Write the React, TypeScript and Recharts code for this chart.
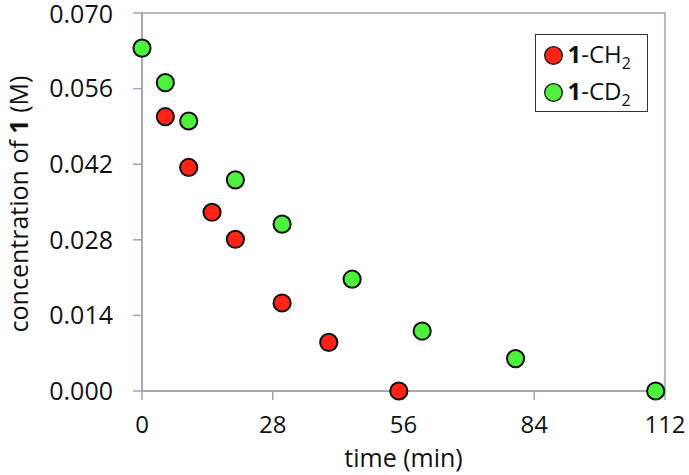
import React from "react";
import {
  ScatterChart,
  Scatter,
  XAxis,
  YAxis,
  ReferenceArea,
  Legend,
  Label,
} from "recharts";

// time (min) / concentration (M)
const ch2Time = [5, 10, 15, 20, 30, 40, 55];
const ch2Conc = [0.0508, 0.0414, 0.0331, 0.0281, 0.0163, 0.009, 0.0];

const cd2Time = [0, 5, 10, 20, 30, 45, 60, 80, 110];
const cd2Conc = [0.0635, 0.0571, 0.05, 0.0391, 0.0309, 0.0207, 0.0111, 0.006, 0.0];

const xTicks = [0, 28, 56, 84, 112];
const yTicks = [0, 0.014, 0.028, 0.042, 0.056, 0.07];

const RED = "#ff2416";
const GREEN = "#4df03c";
const AXIS = "#9ca6ae";
const FONT = "'Open Sans', sans-serif";

const ch2Data = ch2Time.map((t, i) => ({ t, c: ch2Conc[i] }));
const cd2Data = cd2Time.map((t, i) => ({ t, c: cd2Conc[i] }));

const Dot = (fill: string) => (props: any) => {
  const { cx, cy } = props;
  if (cx == null || cy == null) return null;
  return <circle cx={cx} cy={cy} r={8.6} fill={fill} stroke="#111" strokeWidth={2} />;
};

const LegendBox = () => {
  const rows = [
    { color: RED, sub: "CH", n: "2" },
    { color: GREEN, sub: "CD", n: "2" },
  ];
  return (
    <div
      style={{
        width: 113,
        height: 78,
        border: "1.5px solid #333",
        background: "#fff",
        fontFamily: FONT,
        fontSize: 24,
        lineHeight: "30px",
        color: "#111",
        boxSizing: "border-box",
        paddingTop: 2,
      }}
    >
      {rows.map((r) => (
        <div key={r.sub} style={{ display: "flex", alignItems: "center", height: 37, paddingLeft: 6.5 }}>
          <svg width={21} height={21} style={{ marginRight: 4, flex: "none" }}>
            <circle cx={10.5} cy={10.5} r={8.8} fill={r.color} stroke="#111" strokeWidth={1.3} />
          </svg>
          <span style={{ whiteSpace: "nowrap" }}>
            <b>1</b>-{r.sub}
            <span style={{ fontSize: 16, position: "relative", top: 6 }}>{r.n}</span>
          </span>
        </div>
      ))}
    </div>
  );
};

export default function App() {
  return (
    <div style={{ position: "absolute", left: 0, top: 0, background: "#fff" }}>
      <ScatterChart
        width={689}
        height={475}
        margin={{ top: 13, right: 24, left: 0, bottom: 0 }}
        style={{ fontFamily: FONT }}
      >
        <XAxis
          type="number"
          dataKey="t"
          domain={[0, 112]}
          ticks={xTicks}
          height={84}
          tickSize={9}
          tickMargin={16}
          tick={{ fontSize: 24, fill: "#111" }}
          axisLine={{ stroke: AXIS, strokeWidth: 1.5 }}
          tickLine={{ stroke: AXIS, strokeWidth: 1.5 }}
        >
          <Label
            content={(p: any) => {
              const vb = p.viewBox;
              return (
                <text x={vb.x + vb.width / 2} y={vb.y + 76} textAnchor="middle" fontSize={25} fill="#111">
                  time (min)
                </text>
              );
            }}
          />
        </XAxis>
        <YAxis
          type="number"
          dataKey="c"
          domain={[0, 0.07]}
          ticks={yTicks}
          width={142}
          tickSize={9}
          tickMargin={20}
          tickFormatter={(v: number) => v.toFixed(3)}
          tick={{ fontSize: 25, fill: "#111" }}
          axisLine={{ stroke: AXIS, strokeWidth: 1.5 }}
          tickLine={{ stroke: AXIS, strokeWidth: 1.5 }}
        >
          <Label
            content={(p: any) => {
              const vb = p.viewBox;
              const cx = vb.x + 18;
              const cy = vb.y + vb.height / 2 + 2;
              return (
                <text
                  x={cx}
                  y={cy}
                  textAnchor="middle"
                  dominantBaseline="central"
                  fontSize={25}
                  fill="#111"
                  transform={`rotate(-90 ${cx} ${cy})`}
                >
                  concentration of <tspan fontWeight="bold">1</tspan> (M)
                </text>
              );
            }}
          />
        </YAxis>
        <ReferenceArea
          x1={0}
          x2={112}
          y1={0}
          y2={0.07}
          fill="none"
          stroke={AXIS}
          strokeWidth={1.5}
          ifOverflow="visible"
        />
        <Legend
          layout="vertical"
          align="center"
          verticalAlign="middle"
          content={() => <LegendBox />}
          wrapperStyle={{ position: "absolute", left: 535, top: 34, width: 113 }}
        />
        <Scatter
          name="1-CH2"
          data={ch2Data}
          fill={RED}
          shape={Dot(RED)}
          isAnimationActive={false}
        />
        <Scatter
          name="1-CD2"
          data={cd2Data}
          fill={GREEN}
          shape={Dot(GREEN)}
          isAnimationActive={false}
        />
      </ScatterChart>
    </div>
  );
}
